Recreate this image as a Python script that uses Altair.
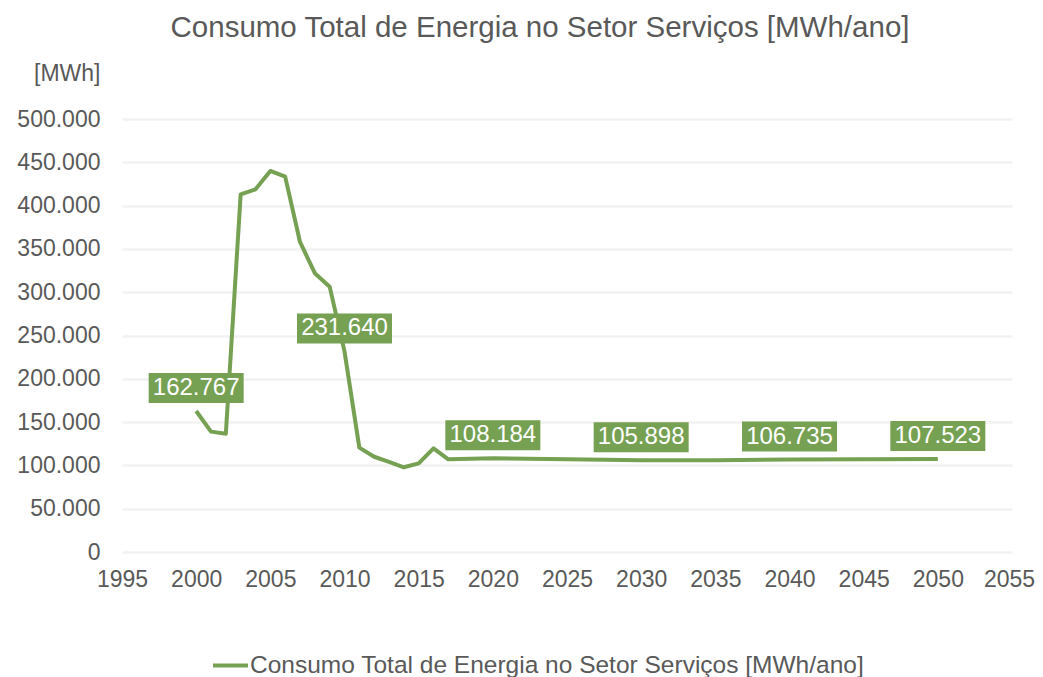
import altair as alt
import pandas as pd

years = [2000, 2001, 2002, 2003, 2004, 2005, 2006, 2007, 2008, 2009, 2010,
         2011, 2012, 2013, 2014, 2015, 2016, 2017, 2020, 2025, 2030, 2035, 2040, 2045, 2050]
values = [162767, 139000, 136500, 413000, 418800, 440000, 433400, 358000, 322000, 306400, 231640,
          120500, 110000, 104000, 97800, 102400, 119700, 107000, 108184, 107200, 105898, 105900, 106735, 107100, 107523]

label_years = [2000, 2010, 2020, 2030, 2040, 2050]
label_values = [162767, 231640, 108184, 105898, 106735, 107523]
label_texts = ["162.767", "231.640", "108.184", "105.898", "106.735", "107.523"]

series_name = "Consumo Total de Energia no Setor Serviços [MWh/ano]"
GREEN = "#76A153"
GRAY = "#595959"
FONT = "Liberation Sans"

df = pd.DataFrame({"ano": years, "valor": values, "serie": series_name})
dl = pd.DataFrame({"ano": label_years, "valor": label_values, "txt": label_texts})

xs = alt.Scale(domain=[1995, 2055], nice=False, zero=False)
ys = alt.Scale(domain=[0, 500000], nice=False)

line = alt.Chart(df).mark_line(strokeWidth=4, strokeJoin="round").encode(
    x=alt.X("ano:Q", scale=xs,
            axis=alt.Axis(values=list(range(1995, 2056, 5)), format="d", title=None,
                          labelFontSize=23, labelColor=GRAY, labelFont=FONT, labelFlush=False,
                          labelOffset={"condition": {"test": "datum.value == 2055", "value": -3}, "value": 0},
                          grid=False, domain=False, ticks=False, labelPadding=16)),
    y=alt.Y("valor:Q", scale=ys,
            axis=alt.Axis(values=list(range(0, 500001, 50000)),
                          labelExpr="replace(format(datum.value, ','), ',', '.')",
                          title="[MWh]", titleAngle=0, titleX=-22, titleY=-46,
                          titleAlign="right", titleBaseline="middle",
                          titleFontSize=23, titleFontWeight="normal", titleColor=GRAY, titleFont=FONT,
                          labelFontSize=23, labelColor=GRAY, labelFont=FONT, labelPadding=22,
                          grid=True, gridColor="#F2F2F2", gridWidth=2.5,
                          domain=False, ticks=False)),
    color=alt.Color("serie:N", scale=alt.Scale(range=[GREEN]),
                    legend=alt.Legend(title=None, orient="none", legendX=89, legendY=527,
                                      symbolType="stroke", symbolSize=1225, symbolStrokeWidth=4,
                                      labelFontSize=24.5, labelColor=GRAY, labelFont=FONT,
                                      labelOffset=0, labelLimit=1000, padding=0)),
)

boxes = alt.Chart(dl).mark_rect(width=95, height=30, yOffset=-23, color=GREEN).encode(
    x=alt.X("ano:Q", scale=xs), y=alt.Y("valor:Q", scale=ys))

texts = alt.Chart(dl).mark_text(yOffset=-23, color="white", fontSize=24, font=FONT,
                                 baseline="middle", align="center").encode(
    x=alt.X("ano:Q", scale=xs), y=alt.Y("valor:Q", scale=ys), text="txt:N")

chart = alt.layer(line, boxes, texts).properties(
    width=890, height=433,
    autosize=alt.AutoSizeParams(type="none"),
    padding={"left": 114, "top": 111, "right": 23, "bottom": 125},
    title=alt.TitleParams(series_name, fontSize=29.5, font=FONT, color=GRAY,
                          fontWeight="normal", anchor="middle", offset=19, dx=-27),
).configure_view(stroke=None)

chart.save("out.html", embed_options={"renderer": "svg", "actions": False})
